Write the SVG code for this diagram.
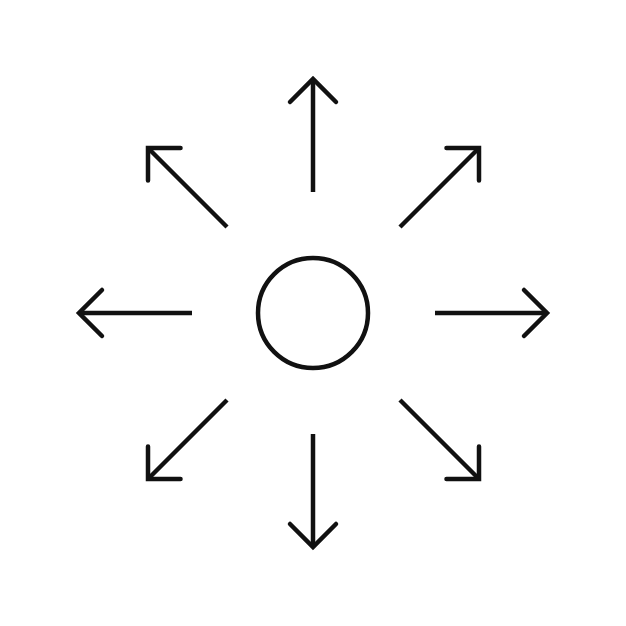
<svg xmlns="http://www.w3.org/2000/svg" width="626" height="626" viewBox="0 0 626 626">
<style>
.ln{stroke:#111;stroke-width:4.5;fill:none;marker-end:url(#hd)}
</style>
<defs>
<marker id="hd" markerUnits="userSpaceOnUse" viewBox="-30 -30 40 60" markerWidth="40" markerHeight="60" refX="0" refY="0" orient="auto" overflow="visible">
<path d="M-23,-23 L0,0 L-23,23" fill="none" stroke="#111" stroke-width="4.5" stroke-linecap="round" stroke-linejoin="miter"/>
</marker>
</defs>
<rect width="626" height="626" fill="#fff"/>
<g id="center"><circle cx="313" cy="313" r="55" fill="none" stroke="#111" stroke-width="4.5"/></g>
<g id="connectors">
<line class="ln" x1="313" y1="192" x2="313" y2="79"/>
<line class="ln" x1="313" y1="434" x2="313" y2="547"/>
<line class="ln" x1="192" y1="313" x2="79" y2="313"/>
<line class="ln" x1="435" y1="313" x2="547" y2="313"/>
<line class="ln" x1="400" y1="227" x2="479" y2="148"/>
<line class="ln" x1="227" y1="227" x2="148" y2="148"/>
<line class="ln" x1="227" y1="400" x2="148" y2="479"/>
<line class="ln" x1="400" y1="400" x2="479" y2="479"/>
</g>
</svg>
